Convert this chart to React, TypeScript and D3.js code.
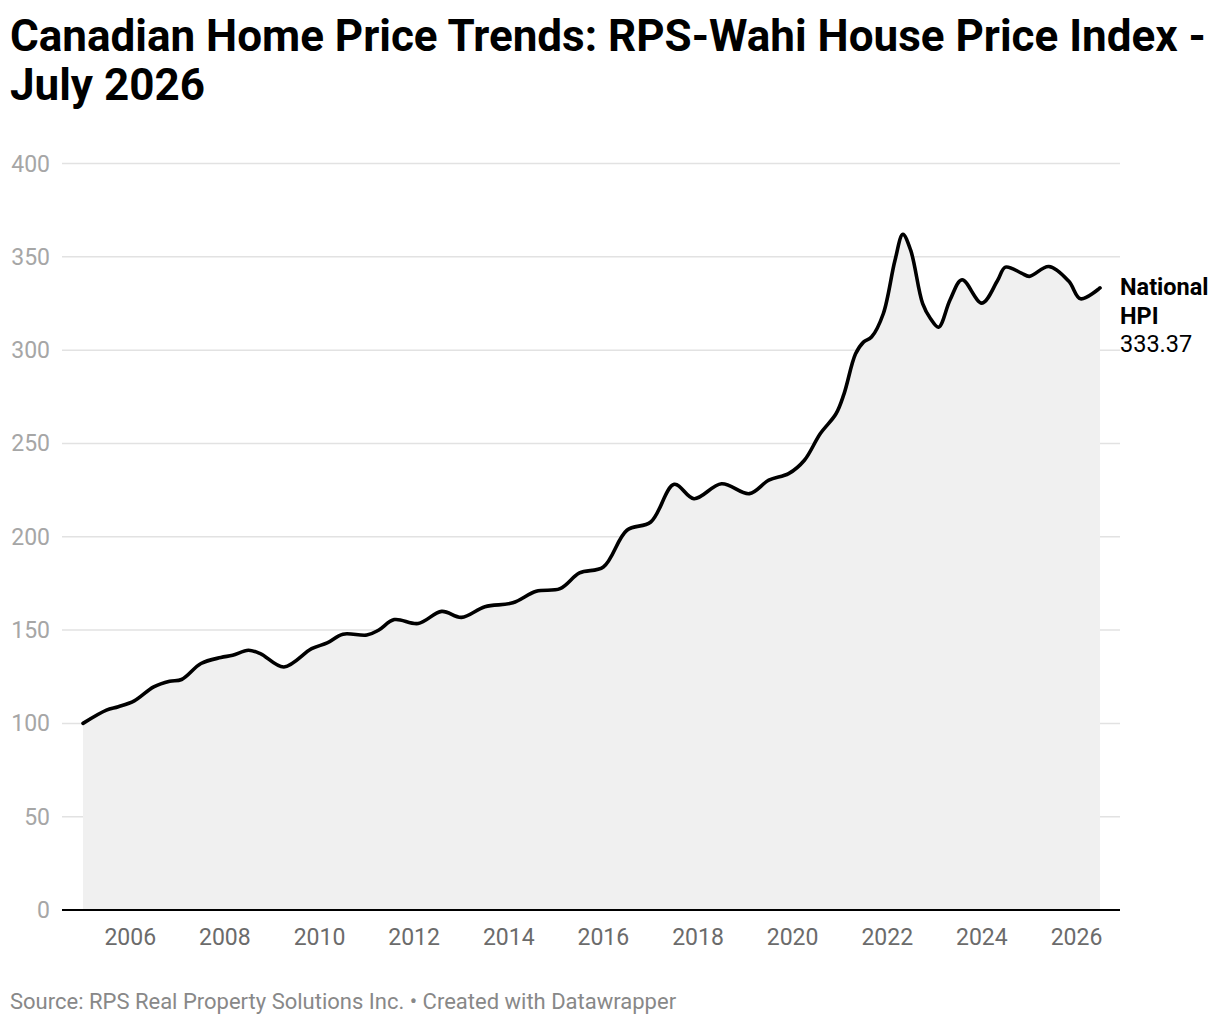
import React from 'react';
import * as d3 from 'd3';

const dates = [
  '2005-01', '2005-07', '2005-10', '2006-02', '2006-07', '2006-11',
  '2007-02', '2007-07', '2007-12', '2008-03', '2008-07', '2008-10',
  '2009-04', '2009-11', '2010-03', '2010-07', '2011-01', '2011-04',
  '2011-08', '2012-02', '2012-08', '2013-01', '2013-07', '2014-02',
  '2014-08', '2015-02', '2015-07', '2016-01', '2016-07', '2017-01',
  '2017-07', '2017-12', '2018-07', '2019-02', '2019-07', '2019-12',
  '2020-04', '2020-08', '2020-12', '2021-02', '2021-05', '2021-07',
  '2021-09', '2021-12', '2022-03', '2022-05', '2022-07', '2022-10',
  '2022-12', '2023-02', '2023-05', '2023-08', '2024-01', '2024-05',
  '2024-07', '2024-11', '2025-01', '2025-06', '2025-11', '2026-02',
  '2026-07',
];

const hpiValues = [
  100, 107.1, 108.9, 112.1, 119.6, 122.6,
  123.5, 132.1, 135.3, 136.5, 139.2, 137.4,
  130.2, 140, 143.1, 147.8, 147.3, 149.9,
  155.6, 153.5, 160, 156.8, 162.5, 164.6,
  170.8, 172.2, 180.6, 183.8, 203.5, 207.9,
  228.1, 220.4, 228.4, 223.1, 230.3, 233.8,
  241, 255.2, 265.9, 276.6, 298, 304.3,
  307, 319.5, 348, 362, 353.4, 324.9,
  316.8, 312.3, 327, 337.7, 325.2, 337.3,
  344.5, 341.3, 339.5, 344.8, 337, 327.5,
  333.37,
];

const yTicks = [0, 50, 100, 150, 200, 250, 300, 350, 400];
const xTickYears = [2006, 2008, 2010, 2012, 2014, 2016, 2018, 2020, 2022, 2024, 2026];

const titleLines = ['Canadian Home Price Trends: RPS-Wahi House Price Index -', 'July 2026'];
const seriesLabel = ['National', 'HPI'];
const footer = 'Source: RPS Real Property Solutions Inc. • Created with Datawrapper';

export default function App() {
  const W = 1220;
  const H = 1026;
  const parse = d3.timeParse('%Y-%m');
  const data = dates.map((d, i) => ({ date: parse(d) as Date, value: hpiValues[i] }));

  const x = d3
    .scaleTime()
    .domain([new Date(2005, 0, 1), new Date(2026, 6, 1)])
    .range([83, 1100]);
  const y = d3.scaleLinear().domain([0, 400]).range([910, 163.5]);

  const line = d3
    .line<{ date: Date; value: number }>()
    .x((d) => x(d.date))
    .y((d) => y(d.value))
    .curve(d3.curveCatmullRom.alpha(0.5));
  const area = d3
    .area<{ date: Date; value: number }>()
    .x((d) => x(d.date))
    .y0(y(0))
    .y1((d) => y(d.value))
    .curve(d3.curveCatmullRom.alpha(0.5));

  const font = 'Roboto, "Noto Sans", sans-serif';
  const last = data[data.length - 1];

  return (
    <div style={{ position: 'absolute', left: 0, top: 0 }}>
      <svg width={W} height={H} style={{ display: 'block', fontFamily: font }}>
        <rect width={W} height={H} fill="#ffffff" />
        {titleLines.map((t, i) => (
          <text key={t} x={10} y={51 + i * 49} fontSize={44} fontWeight={700} fill="#000">
            {t}
          </text>
        ))}
        {yTicks.map((t) =>
          t === 0 ? null : (
            <line key={'g' + t} x1={62} x2={1120} y1={y(t)} y2={y(t)} stroke="#e2e2e2" strokeWidth={1.5} />
          ),
        )}
        <path d={area(data) || ''} fill="#f0f0f0" />
        {yTicks.map((t) => (
          <text key={'yl' + t} x={50} y={y(t)} dy="0.35em" textAnchor="end" fontSize={23} fill="#a6a6a6">
            {t}
          </text>
        ))}
        <line x1={62} x2={1120} y1={y(0)} y2={y(0)} stroke="#000" strokeWidth={2} />
        <path d={line(data) || ''} fill="none" stroke="#000" strokeWidth={3.6} strokeLinejoin="round" strokeLinecap="round" />
        {xTickYears.map((yr) => (
          <text key={'xl' + yr} x={x(new Date(yr, 0, 1))} y={945} textAnchor="middle" fontSize={23} fill="#6b6b6b">
            {yr}
          </text>
        ))}
        {seriesLabel.map((s, i) => (
          <text key={s} x={1120} y={295 + i * 28.5} fontSize={23.5} fontWeight={700} fill="#000">
            {s}
          </text>
        ))}
        <text x={1120} y={352} fontSize={23.5} fill="#000">
          {last.value.toFixed(2)}
        </text>
        <text x={10} y={1009} fontSize={22} fill="#888888">
          {footer}
        </text>
      </svg>
    </div>
  );
}
